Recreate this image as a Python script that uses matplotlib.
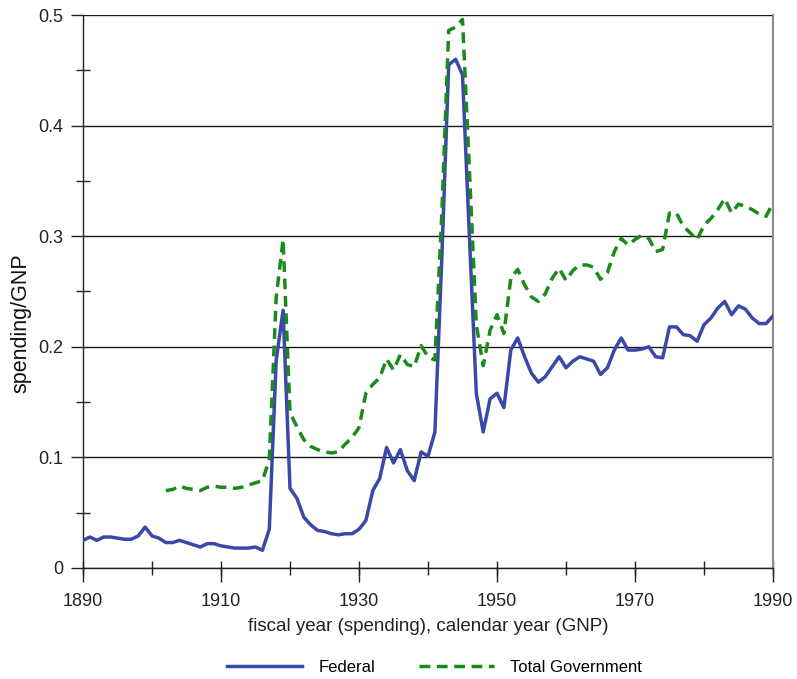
import numpy as np
import matplotlib.pyplot as plt
from matplotlib.ticker import MultipleLocator

plt.rcParams['font.family'] = ['Liberation Sans', 'DejaVu Sans']

# federal spending / GNP, fiscal years 1890-1990
federal_years = list(range(1890, 1991))
federal = [
    0.025, 0.028, 0.025, 0.028, 0.028, 0.027, 0.026, 0.026, 0.029, 0.037,
    0.029, 0.027, 0.023, 0.023, 0.025, 0.023, 0.021, 0.019, 0.022, 0.022,
    0.020, 0.019, 0.018, 0.018, 0.018, 0.019, 0.016, 0.035, 0.188, 0.233,
    0.072, 0.063, 0.046, 0.039, 0.034, 0.033, 0.031, 0.030, 0.031, 0.031,
    0.035, 0.043, 0.070, 0.081, 0.109, 0.095, 0.107, 0.088, 0.079, 0.105,
    0.101, 0.123, 0.280, 0.455, 0.460, 0.446, 0.300, 0.158, 0.123, 0.153,
    0.158, 0.145, 0.197, 0.208, 0.191, 0.176, 0.168, 0.173, 0.182, 0.191,
    0.181, 0.187, 0.191, 0.189, 0.187, 0.175, 0.181, 0.197, 0.208, 0.197,
    0.197, 0.198, 0.200, 0.191, 0.190, 0.218, 0.218, 0.211, 0.210, 0.205,
    0.220, 0.226, 0.235, 0.241, 0.229, 0.237, 0.234, 0.226, 0.221, 0.221,
    0.228,
]

# total (federal + state + local) spending / GNP, 1902-1990
total_years = list(range(1902, 1991))
total = [
    0.070, 0.071, 0.074, 0.072, 0.071, 0.070, 0.073, 0.074,
    0.073, 0.073, 0.072, 0.073, 0.075, 0.077, 0.079, 0.098, 0.245, 0.297,
    0.140, 0.128, 0.116, 0.110, 0.107, 0.105, 0.104, 0.105, 0.112, 0.118,
    0.127, 0.158, 0.166, 0.172, 0.189, 0.179, 0.193, 0.184, 0.182, 0.201,
    0.191, 0.188, 0.320, 0.486, 0.489, 0.496, 0.360, 0.220, 0.183, 0.215,
    0.229, 0.212, 0.262, 0.270, 0.256, 0.245, 0.241, 0.248, 0.262, 0.271,
    0.260, 0.269, 0.274, 0.274, 0.272, 0.261, 0.267, 0.286, 0.298, 0.292,
    0.297, 0.301, 0.298, 0.286, 0.288, 0.321, 0.321, 0.309, 0.303, 0.297,
    0.310, 0.316, 0.324, 0.334, 0.321, 0.329, 0.327, 0.324, 0.320, 0.318,
    0.330,
]

x_labels = [1890, 1910, 1930, 1950, 1970, 1990]
y_labels = ['0', '0.1', '0.2', '0.3', '0.4', '0.5']

fig = plt.figure(figsize=(7.97, 6.79), dpi=100)
ax = fig.add_axes([83 / 797, 1 - 568 / 679, 690 / 797, 553 / 679])

ax.plot(federal_years, federal, color='#3a48a8', lw=2.5, label='Federal',
        solid_joinstyle='round', zorder=3)
ax.plot(total_years, total, color='#1a8a1a', lw=2.5, dashes=(3.1, 1.9),
        label='Total Government', zorder=3)

ax.set_xlim(1890, 1990)
ax.set_ylim(0, 0.5)

ax.set_xticks(x_labels, [str(y) for y in x_labels])
ax.xaxis.set_minor_locator(MultipleLocator(10))
ax.xaxis.remove_overlapping_locs = False
ax.set_yticks([0, 0.1, 0.2, 0.3, 0.4, 0.5], y_labels)
ax.yaxis.set_minor_locator(MultipleLocator(0.05))

ax.tick_params(axis='x', which='major', direction='out', length=10, width=1,
               color='#222222', labelsize=13, pad=8, labelcolor='#222222')
ax.tick_params(axis='x', which='minor', direction='inout', length=9.5, width=1,
               color='#222222')
ax.tick_params(axis='y', which='major', direction='out', length=9, width=1,
               color='#222222', labelsize=13, pad=5, labelcolor='#222222')
ax.tick_params(axis='y', which='minor', direction='inout', length=9.5, width=1,
               color='#222222')

ax.grid(axis='y', which='major', color='#1a1a1a', lw=1.0)
ax.set_axisbelow(True)

for side in ['left', 'bottom']:
    ax.spines[side].set_color('#222222')
    ax.spines[side].set_linewidth(1.0)
ax.spines['right'].set_color('#8c8c8c')
ax.spines['right'].set_linewidth(1.5)
ax.spines['top'].set_visible(False)

ax.set_xlabel('fiscal year (spending), calendar year (GNP)', fontsize=13.5,
              color='#222222', labelpad=6)
ax.set_ylabel('spending/GNP', fontsize=15.5, color='#111111')
ax.yaxis.set_label_coords(-0.075, 0.443)

fig.legend(loc='center', bbox_to_anchor=(434.7 / 797, 1 - 667 / 679), ncol=2,
           frameon=False, fontsize=12, handlelength=4.5, handletextpad=1.0,
           columnspacing=2.6)

fig.savefig('out.png', dpi=100)
